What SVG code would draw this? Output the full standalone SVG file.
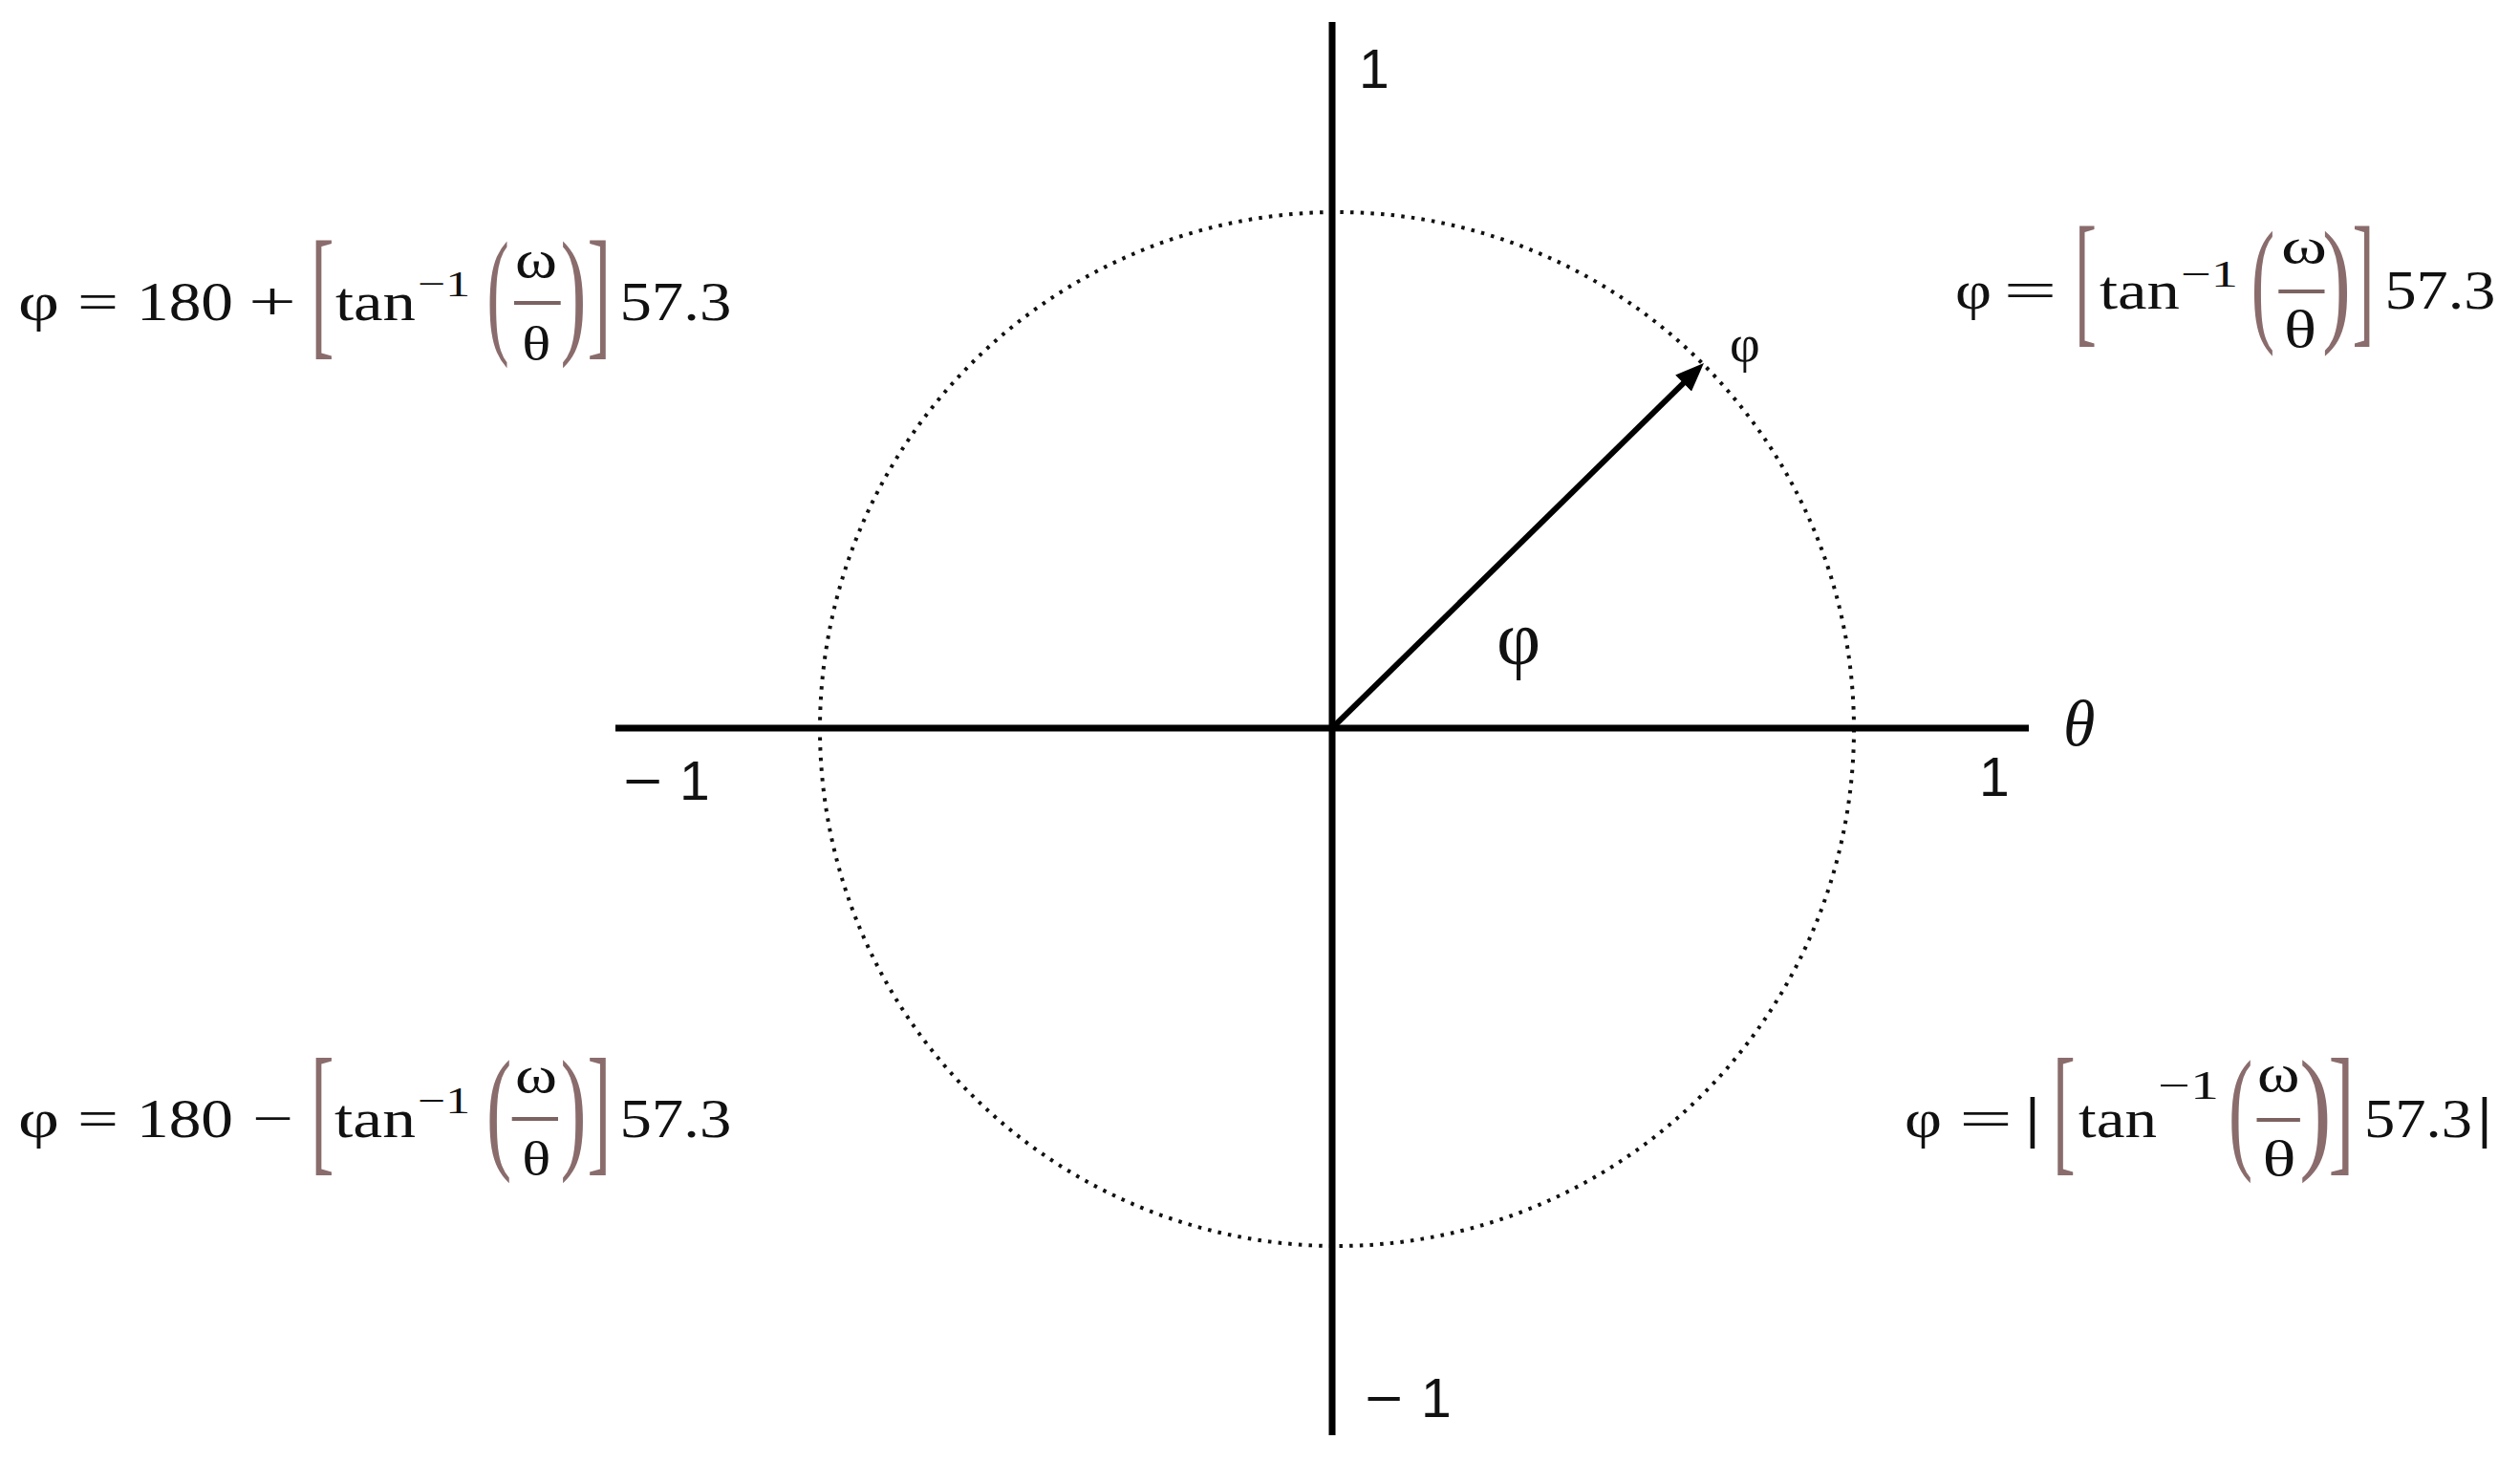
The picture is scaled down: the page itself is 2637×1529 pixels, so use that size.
<svg xmlns="http://www.w3.org/2000/svg" width="2637" height="1529" viewBox="0 0 2637 1529">
<style>
.s{font-family:"Liberation Serif","DejaVu Serif",serif;fill:#111}
.a{font-family:"Liberation Sans",Arial,sans-serif;fill:#111;font-size:57px}
.f{font-size:58px}
.d{fill:#8a6c6c}
.ax{stroke:#000;stroke-width:7;fill:none}
.fb{stroke:#7d6262;stroke-width:4}
</style>
<defs>
<marker id="ah" markerUnits="userSpaceOnUse" markerWidth="30" markerHeight="24" viewBox="0 0 30 24" refX="2" refY="12" orient="auto">
<path d="M0,0 L30,12 L0,24 z" fill="#000"/>
</marker>
</defs>
<rect width="2637" height="1529" fill="#fff"/>
<g id="circle">
<circle cx="1399" cy="763" r="541" fill="none" stroke="#111" stroke-width="4" stroke-dasharray="3.5 7.18"/>
</g>
<g id="axes">
<line class="ax" x1="1394" y1="23" x2="1394" y2="1502"/>
<line class="ax" x1="644" y1="762" x2="2123" y2="762"/>
</g>
<g id="connectors">
<line x1="1394" y1="762" x2="1763" y2="399.6" stroke="#000" stroke-width="6" marker-end="url(#ah)"/>
</g>
<g id="axis-labels">
<text class="a" x="1422" y="92">1</text>
<text class="a" x="1428" y="1483" textLength="40" lengthAdjust="spacingAndGlyphs">−</text>
<text class="a" x="1487" y="1483">1</text>
<text class="a" x="652" y="837" textLength="41" lengthAdjust="spacingAndGlyphs">−</text>
<text class="a" x="711" y="837">1</text>
<text class="a" x="2071" y="833">1</text>
<text class="s" x="2159" y="780" font-size="68" font-style="italic">θ</text>
</g>
<g id="angle-labels">
<text class="s" x="1566" y="695" font-size="80">φ</text>
<text class="s" x="1810" y="378" font-size="55">φ</text>
</g>
<g id="formula-q2">
<text class="s f" x="19" y="335" textLength="43" lengthAdjust="spacingAndGlyphs">φ</text>
<text class="s f" x="81" y="335" textLength="43" lengthAdjust="spacingAndGlyphs">=</text>
<text class="s f" x="143" y="335" textLength="101" lengthAdjust="spacingAndGlyphs">180</text>
<text class="s f" x="260" y="335" textLength="50" lengthAdjust="spacingAndGlyphs">+</text>
<text class="s d" x="325.2" y="356" font-size="150" textLength="24.3" lengthAdjust="spacingAndGlyphs">[</text>
<text class="s f" x="351" y="335" textLength="84" lengthAdjust="spacingAndGlyphs">tan</text>
<text class="s" x="437" y="310" font-size="38" textLength="55" lengthAdjust="spacingAndGlyphs">−1</text>
<text class="s d" x="509.5" y="354" font-size="147" textLength="23.2" lengthAdjust="spacingAndGlyphs">(</text>
<text class="s" x="539" y="290" font-size="58" textLength="44" lengthAdjust="spacingAndGlyphs">ω</text>
<line class="fb" x1="538" y1="317" x2="586.7" y2="317"/>
<text class="s" x="546.2" y="377" font-size="50" textLength="30" lengthAdjust="spacingAndGlyphs">θ</text>
<text class="s d" x="586.6" y="354" font-size="147" textLength="27" lengthAdjust="spacingAndGlyphs">)</text>
<text class="s d" x="614.5" y="356" font-size="150" textLength="24.8" lengthAdjust="spacingAndGlyphs">]</text>
<text class="s f" x="648.4" y="335" textLength="117" lengthAdjust="spacingAndGlyphs">57.3</text>
</g>
<g id="formula-q1">
<text class="s" x="2046" y="323" font-size="57" textLength="38" lengthAdjust="spacingAndGlyphs">φ</text>
<text class="s" x="2096.6" y="323" font-size="57" textLength="56" lengthAdjust="spacingAndGlyphs">=</text>
<text class="s d" x="2170.9" y="343" font-size="152" textLength="23" lengthAdjust="spacingAndGlyphs">[</text>
<text class="s" x="2197" y="323" font-size="57" textLength="84" lengthAdjust="spacingAndGlyphs">tan</text>
<text class="s" x="2282" y="300" font-size="40" textLength="60" lengthAdjust="spacingAndGlyphs">−1</text>
<text class="s d" x="2355.7" y="342" font-size="143" textLength="24.5" lengthAdjust="spacingAndGlyphs">(</text>
<text class="s" x="2387" y="275" font-size="52" textLength="48" lengthAdjust="spacingAndGlyphs">ω</text>
<line class="fb" x1="2384.3" y1="305" x2="2432.5" y2="305"/>
<text class="s" x="2390" y="363" font-size="54" textLength="34" lengthAdjust="spacingAndGlyphs">θ</text>
<text class="s d" x="2429.9" y="342" font-size="143" textLength="30" lengthAdjust="spacingAndGlyphs">)</text>
<text class="s d" x="2461.6" y="343" font-size="152" textLength="23" lengthAdjust="spacingAndGlyphs">]</text>
<text class="s" x="2495.4" y="323" font-size="57" textLength="116" lengthAdjust="spacingAndGlyphs">57.3</text>
</g>
<g id="formula-q3">
<text class="s f" x="19" y="1190" textLength="43" lengthAdjust="spacingAndGlyphs">φ</text>
<text class="s f" x="81" y="1190" textLength="43" lengthAdjust="spacingAndGlyphs">=</text>
<text class="s f" x="143" y="1190" textLength="101" lengthAdjust="spacingAndGlyphs">180</text>
<text class="s f" x="264" y="1190" textLength="43" lengthAdjust="spacingAndGlyphs">−</text>
<text class="s d" x="325.2" y="1210" font-size="148" textLength="24.3" lengthAdjust="spacingAndGlyphs">[</text>
<text class="s f" x="350" y="1190" textLength="85" lengthAdjust="spacingAndGlyphs">tan</text>
<text class="s" x="437" y="1165" font-size="40" textLength="55" lengthAdjust="spacingAndGlyphs">−1</text>
<text class="s d" x="509" y="1208" font-size="142" textLength="26.3" lengthAdjust="spacingAndGlyphs">(</text>
<text class="s" x="539" y="1143" font-size="54" textLength="44" lengthAdjust="spacingAndGlyphs">ω</text>
<line class="fb" x1="535.7" y1="1171" x2="584" y2="1171"/>
<text class="s" x="546.2" y="1230" font-size="50" textLength="30" lengthAdjust="spacingAndGlyphs">θ</text>
<text class="s d" x="586.6" y="1208" font-size="142" textLength="27" lengthAdjust="spacingAndGlyphs">)</text>
<text class="s d" x="614.5" y="1210" font-size="148" textLength="24.8" lengthAdjust="spacingAndGlyphs">]</text>
<text class="s f" x="648.4" y="1190" textLength="117" lengthAdjust="spacingAndGlyphs">57.3</text>
</g>
<g id="formula-q4">
<text class="s f" x="1993" y="1190" textLength="39" lengthAdjust="spacingAndGlyphs">φ</text>
<text class="s f" x="2050" y="1190" textLength="56" lengthAdjust="spacingAndGlyphs">=</text>
<text class="a" x="2119.6" y="1190" font-size="49">|</text>
<text class="s d" x="2148" y="1210" font-size="148" textLength="23.8" lengthAdjust="spacingAndGlyphs">[</text>
<text class="s f" x="2175" y="1190" textLength="82" lengthAdjust="spacingAndGlyphs">tan</text>
<text class="s" x="2258" y="1150" font-size="42" textLength="64" lengthAdjust="spacingAndGlyphs">−1</text>
<text class="s d" x="2332" y="1208" font-size="142" textLength="25.2" lengthAdjust="spacingAndGlyphs">(</text>
<text class="s" x="2362" y="1142" font-size="56" textLength="44.5" lengthAdjust="spacingAndGlyphs">ω</text>
<line class="fb" x1="2361.5" y1="1172" x2="2406.9" y2="1172"/>
<text class="s" x="2367.5" y="1230" font-size="52" textLength="35" lengthAdjust="spacingAndGlyphs">θ</text>
<text class="s d" x="2406" y="1208" font-size="142" textLength="33.8" lengthAdjust="spacingAndGlyphs">)</text>
<text class="s d" x="2436.5" y="1210" font-size="148" textLength="27" lengthAdjust="spacingAndGlyphs">]</text>
<text class="s f" x="2474" y="1190" textLength="113" lengthAdjust="spacingAndGlyphs">57.3</text>
<text class="a" x="2592.5" y="1190" font-size="49">|</text>
</g>
</svg>
